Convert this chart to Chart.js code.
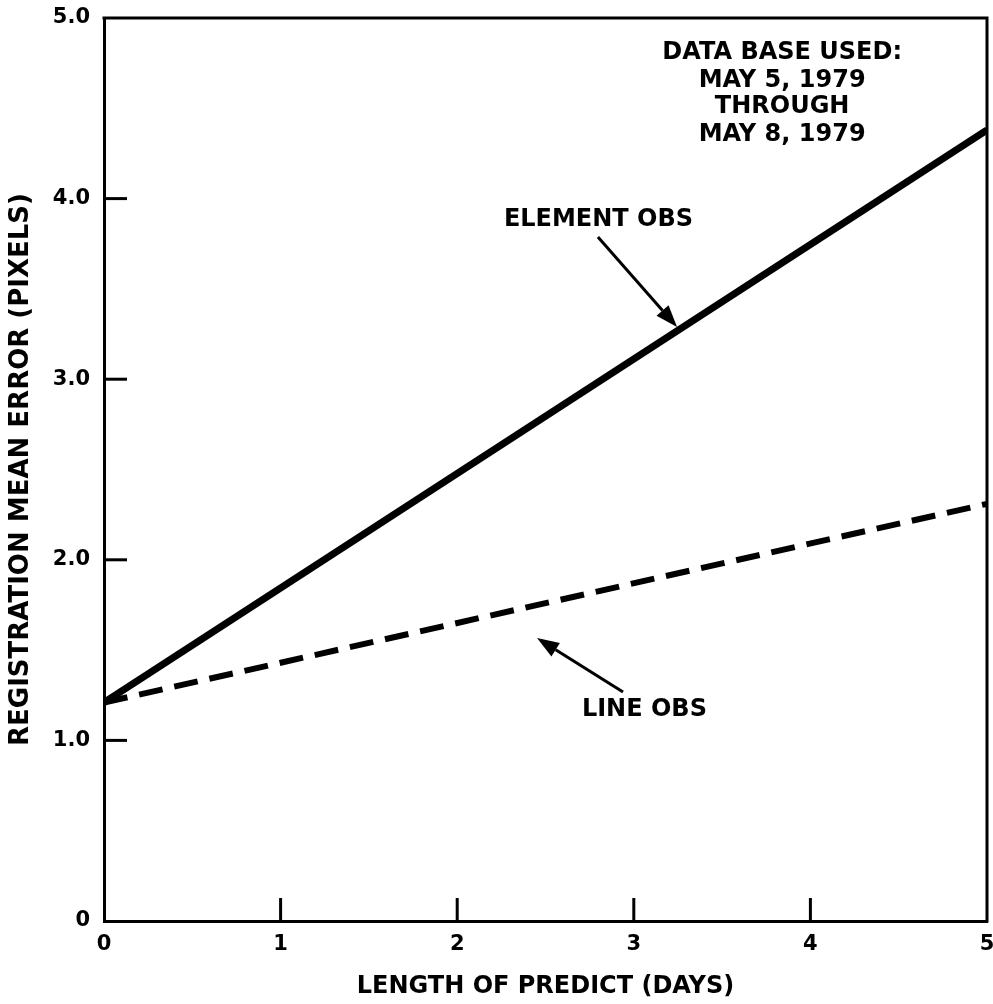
<!DOCTYPE html>
<html>
<head>
<meta charset="utf-8">
<script src="https://cdn.jsdelivr.net/npm/chart.js@4.4.1/dist/chart.umd.min.js"></script>
<style>
  html, body { margin: 0; padding: 0; background: #fff; }
  #wrap { width: 993px; height: 1004px; }
</style>
</head>
<body>
<div id="wrap"><canvas id="myChart" width="993" height="1004"></canvas></div>
<script>
const ctx = document.getElementById('myChart');

// data
const days = [0, 5];
const elementObs = [1.21, 4.38];
const lineObs = [1.21, 2.31];
const xTicks = [0, 1, 2, 3, 4, 5];
const yTicks = [0, 1, 2, 3, 4, 5];

// notes in data units
const noteLines = ['DATA BASE USED:', 'MAY 5, 1979', 'THROUGH', 'MAY 8, 1979'];
const noteX = 3.84;
const noteY = [4.806, 4.652, 4.51, 4.352];
const labels = [
  { text: 'ELEMENT OBS', x: 2.80, y: 3.885 },
  { text: 'LINE OBS', x: 3.06, y: 1.17 }
];
const arrows = [
  { from: [2.797, 3.787], to: [3.245, 3.289] },
  { from: [2.939, 1.268], to: [2.452, 1.567] }
];

const FONT = 'DejaVu Sans';

const framePlugin = {
  id: 'frame',
  afterDraw(chart) {
    const c = chart.ctx;
    const a = chart.chartArea;
    const xs = chart.scales.x;
    const ys = chart.scales.y;
    c.save();
    c.strokeStyle = '#000';
    c.lineWidth = 3;
    c.lineCap = 'square';
    // top and right edge
    c.beginPath();
    c.moveTo(a.left, a.top);
    c.lineTo(a.right, a.top);
    c.lineTo(a.right, a.bottom);
    c.stroke();
    // inward ticks
    c.lineCap = 'butt';
    for (let i = 1; i < yTicks.length - 1; i++) {
      const py = ys.getPixelForValue(yTicks[i]);
      c.beginPath();
      c.moveTo(a.left, py);
      c.lineTo(a.left + 23, py);
      c.stroke();
    }
    for (let i = 1; i < xTicks.length - 1; i++) {
      const px = xs.getPixelForValue(xTicks[i]);
      c.beginPath();
      c.moveTo(px, a.bottom);
      c.lineTo(px, a.bottom - 23);
      c.stroke();
    }

    // notes
    c.fillStyle = '#000';
    c.font = 'bold 24px "' + FONT + '"';
    c.textAlign = 'center';
    c.textBaseline = 'middle';
    for (let i = 0; i < noteLines.length; i++) {
      c.fillText(noteLines[i], xs.getPixelForValue(noteX), ys.getPixelForValue(noteY[i]));
    }
    for (let i = 0; i < labels.length; i++) {
      c.fillText(labels[i].text, xs.getPixelForValue(labels[i].x), ys.getPixelForValue(labels[i].y));
    }

    // arrows
    c.lineWidth = 3;
    for (let i = 0; i < arrows.length; i++) {
      const x1 = xs.getPixelForValue(arrows[i].from[0]);
      const y1 = ys.getPixelForValue(arrows[i].from[1]);
      const x2 = xs.getPixelForValue(arrows[i].to[0]);
      const y2 = ys.getPixelForValue(arrows[i].to[1]);
      const ang = Math.atan2(y2 - y1, x2 - x1);
      const len = 22, half = 8;
      const bx = x2 - len * Math.cos(ang);
      const by = y2 - len * Math.sin(ang);
      c.beginPath();
      c.moveTo(x1, y1);
      c.lineTo(bx, by);
      c.stroke();
      c.beginPath();
      c.moveTo(x2, y2);
      c.lineTo(bx + half * Math.sin(ang), by - half * Math.cos(ang));
      c.lineTo(bx - half * Math.sin(ang), by + half * Math.cos(ang));
      c.closePath();
      c.fill();
    }
    c.restore();
  }
};

new Chart(ctx, {
  type: 'scatter',
  data: {
    datasets: [{
      label: 'ELEMENT OBS',
      data: days.map((d, i) => ({ x: d, y: elementObs[i] })),
      showLine: true,
      borderColor: '#000',
      borderWidth: 7,
      pointRadius: 0
    }, {
      label: 'LINE OBS',
      data: days.map((d, i) => ({ x: d, y: lineObs[i] })),
      showLine: true,
      borderColor: '#000',
      borderWidth: 6,
      borderDash: [24, 12],
      pointRadius: 0
    }]
  },
  options: {
    responsive: false,
    animation: false,
    layout: { padding: { top: 18, right: 6, left: 0, bottom: 0 } },
    plugins: {
      legend: { display: false },
      tooltip: { enabled: false }
    },
    scales: {
      x: {
        type: 'linear',
        min: 0,
        max: 5,
        afterFit: s => { s.height = 83; s.paddingLeft = 0; s.paddingRight = 0; },
        afterBuildTicks: s => { s.ticks = xTicks.map(v => ({ value: v })); },
        ticks: {
          color: '#000',
          padding: 11,
          maxRotation: 0,
          font: { family: FONT, size: 21, weight: 'bold' },
          callback: v => String(v)
        },
        grid: { display: false, drawTicks: false },
        border: { display: true, color: '#000', width: 3 },
        title: {
          display: true,
          text: 'LENGTH OF PREDICT (DAYS)',
          color: '#000',
          padding: { top: 0, bottom: 3 },
          font: { family: FONT, size: 24, weight: 'bold' }
        }
      },
      y: {
        type: 'linear',
        min: 0,
        max: 5,
        afterFit: s => { s.width = 104; s.paddingTop = 0; s.paddingBottom = 0; },
        afterBuildTicks: s => { s.ticks = yTicks.map(v => ({ value: v })); },
        ticks: {
          color: '#000',
          padding: 14,
          font: { family: FONT, size: 21, weight: 'bold' },
          callback: v => v === 0 ? '0' : v.toFixed(1)
        },
        grid: { display: false, drawTicks: false },
        border: { display: true, color: '#000', width: 3 },
        title: {
          display: true,
          text: 'REGISTRATION MEAN ERROR (PIXELS)',
          color: '#000',
          padding: { top: 6, bottom: 0 },
          font: { family: FONT, size: 26, weight: 'bold' }
        }
      }
    }
  },
  plugins: [framePlugin]
});
</script>
</body>
</html>
